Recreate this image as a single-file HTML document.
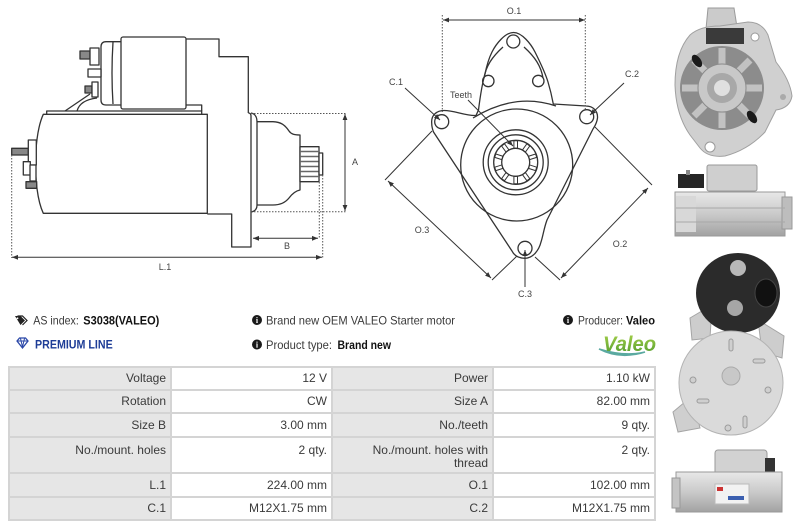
<!DOCTYPE html>
<html><head><meta charset="utf-8">
<style>
html,body{margin:0;padding:0;background:#fff;}
body{width:800px;height:529px;position:relative;overflow:hidden;font-family:"Liberation Sans",Arial,sans-serif;}
svg{position:absolute;left:0;top:0;}
.g{position:absolute;left:8px;top:366px;width:648px;height:155px;background:#d4d4d4;}
.c{position:absolute;box-sizing:border-box;text-align:right;padding-right:4px;font-size:12px;color:#3a3a3a;line-height:13px;white-space:nowrap;}
.l{background:#e6e6e6;}
.v{background:#fff;}
</style></head>
<body>
<svg width="800" height="529" viewBox="0 0 800 529" xmlns="http://www.w3.org/2000/svg">
<defs>
<marker id="ar" viewBox="0 0 10 10" refX="10" refY="5" markerWidth="6" markerHeight="6" orient="auto-start-reverse" markerUnits="userSpaceOnUse"><path d="M0,1 L10,5 L0,9 Z" fill="#333"/></marker>
<linearGradient id="vg" x1="0" y1="0" x2="0" y2="1"><stop offset="0" stop-color="#a6d04a"/><stop offset="1" stop-color="#4f9a2c"/></linearGradient>
<linearGradient id="cyl" x1="0" y1="0" x2="0" y2="1"><stop offset="0" stop-color="#e8e8e8"/><stop offset="0.5" stop-color="#cacaca"/><stop offset="1" stop-color="#a2a2a2"/></linearGradient>
</defs>

<!-- ===== LEFT DRAWING ===== -->
<g fill="none" stroke="#333" stroke-width="1.3" stroke-linejoin="round">
<path d="M186,39 H219 V56.7 H248.3 V113"/>
<path d="M248.3,113 Q251,113 251,116 V247 H231.7 V214 H207.3"/>
<path d="M251,113 Q257,114 257,122 V205 Q257,211 251,212"/>
<path d="M257,121.7 H273 C281,122 285,125 289,131 C291,134 294,135 300,135 V190 C295,191 292,194 289,198 C285,203 280,205 273,205 H257"/>
<rect x="300" y="146.7" width="19" height="35" fill="#fff"/>
<path d="M300,151.5 H319 M300,156.5 H319 M300,161.5 H319 M300,166.5 H319 M300,171.5 H319 M300,176.5 H319" stroke="#666" stroke-width="1.6"/>
<rect x="319" y="153" width="3.7" height="22" fill="#fff"/>
<path d="M43.3,114.3 H207.3 V213.3 H43.3 C37,200 35.5,178 35.5,163.8 C35.5,150 37,128 43.3,114.3 Z"/>
<path d="M46.7,114.3 V111 H201.7 V114.3"/>
<path d="M186,105 H201.7 V111"/>
<rect x="121" y="37" width="65" height="72" rx="2"/>
<path d="M121,41.7 H106 Q101,41.7 101,47 V100 Q101,105 106,105 H121"/>
<path d="M113,42 Q111,73 113,104"/>
<rect x="80" y="51" width="10" height="8" fill="#888"/>
<rect x="90" y="48" width="9" height="17" fill="#fff"/>
<rect x="88" y="69" width="13" height="8" fill="#fff"/>
<rect x="85" y="86" width="7" height="7" fill="#888"/>
<rect x="92" y="82" width="6" height="15" fill="#fff"/>
<path d="M90,94 L65,111"/>
<path d="M97,98 Q80,100 77,111"/>
<rect x="11.7" y="148.3" width="16.6" height="6.7" fill="#888"/>
<rect x="28.3" y="140" width="8" height="25" fill="#fff"/>
<rect x="23.3" y="161.7" width="7" height="13.3" fill="#fff"/>
<rect x="30" y="165" width="6" height="16" fill="#fff"/>
<rect x="26" y="181.7" width="10.7" height="6.6" fill="#888"/>
</g>
<g fill="none" stroke="#555" stroke-width="1" stroke-dasharray="1.5,1.5">
<path d="M11.7,155 V258 M322.7,175 V258 M319.3,173 V238 M251,113.5 H347 M251,211.7 H347"/>
</g>
<g fill="none" stroke="#333" stroke-width="1">
<path d="M12,257.3 H322" marker-start="url(#ar)" marker-end="url(#ar)"/>
<path d="M253,238.3 H318" marker-start="url(#ar)" marker-end="url(#ar)"/>
<path d="M345,114 V211" marker-start="url(#ar)" marker-end="url(#ar)"/>
</g>
<g font-family="Liberation Sans, sans-serif" font-size="9" fill="#444" text-anchor="middle">
<text x="165" y="270">L.1</text>
<text x="287" y="249">B</text>
<text x="355" y="165">A</text>
</g>

<!-- ===== MIDDLE DRAWING ===== -->
<g fill="none" stroke="#333" stroke-width="1.3" stroke-linejoin="round">
<path d="M431.7,123 C431,115 437,110.5 444,110.5 C455,110.5 465,116 476,115.5 L478.5,110 C480,98 482,84 485,74 C487,64 489,58 492,52 C496,44 505,32.5 513.5,32.5 C522,32.5 531,44 535,52 C540,62 545,72 548,82 C551,92 552,97 553.3,104 L586,106 C593,106 598,111 597.5,118 C597,122 595,126 593,129 L547,220 C544,228 543,236 541,242 C539,250 533,258.3 525,258.3 C518,258.3 514,255 512,251 L433.5,132 C432.3,129 431.7,126 431.7,123 Z"/>
<path d="M473,118 Q515,92 556,106"/>
<path d="M484,78 C486,66 492,57 503,47"/>
<path d="M524,47 C535,57 541,66 543,78"/>
<circle cx="513.3" cy="41.5" r="6.5"/>
<circle cx="488.3" cy="81" r="5.7"/>
<circle cx="538.3" cy="81" r="5.7"/>
<circle cx="441.7" cy="121.7" r="7"/>
<circle cx="586.7" cy="116.7" r="7"/>
<circle cx="525" cy="248.3" r="7"/>
<circle cx="516.7" cy="165" r="56"/>
<circle cx="515.7" cy="162.3" r="32.5"/>
<circle cx="515.7" cy="162.3" r="27.5"/>
<circle cx="515.7" cy="162.3" r="22"/>
<circle cx="515.7" cy="162.3" r="14"/>
<g stroke-width="1" transform="translate(515.7,162.3)">
<rect x="-1.8" y="-21.5" width="3.6" height="7.5" transform="rotate(0)"/>
<rect x="-1.8" y="-21.5" width="3.6" height="7.5" transform="rotate(36)"/>
<rect x="-1.8" y="-21.5" width="3.6" height="7.5" transform="rotate(72)"/>
<rect x="-1.8" y="-21.5" width="3.6" height="7.5" transform="rotate(108)"/>
<rect x="-1.8" y="-21.5" width="3.6" height="7.5" transform="rotate(144)"/>
<rect x="-1.8" y="-21.5" width="3.6" height="7.5" transform="rotate(180)"/>
<rect x="-1.8" y="-21.5" width="3.6" height="7.5" transform="rotate(216)"/>
<rect x="-1.8" y="-21.5" width="3.6" height="7.5" transform="rotate(252)"/>
<rect x="-1.8" y="-21.5" width="3.6" height="7.5" transform="rotate(288)"/>
<rect x="-1.8" y="-21.5" width="3.6" height="7.5" transform="rotate(324)"/>
</g>
</g>
<g fill="none" stroke="#555" stroke-width="1" stroke-dasharray="1.5,1.5">
<path d="M442.3,15 V112 M585.3,15 V110"/>
</g>
<g fill="none" stroke="#333" stroke-width="1">
<path d="M443,20 H585" marker-start="url(#ar)" marker-end="url(#ar)"/>
<path d="M405,88 L440,120" marker-end="url(#ar)"/>
<path d="M624,83 L590,115" marker-end="url(#ar)"/>
<path d="M468,100 L513,146" marker-end="url(#ar)"/>
<path d="M525,287 V250" marker-end="url(#ar)"/>
<path d="M432,131 L385,180 M517,256 L492,280"/>
<path d="M388,181 L491,278" marker-start="url(#ar)" marker-end="url(#ar)"/>
<path d="M595,127 L652,185 M535,257 L560,280"/>
<path d="M648,188 L561,278" marker-start="url(#ar)" marker-end="url(#ar)"/>
</g>
<g font-family="Liberation Sans, sans-serif" font-size="9" fill="#444" text-anchor="middle">
<text x="514" y="14">O.1</text>
<text x="396" y="85">C.1</text>
<text x="632" y="77">C.2</text>
<text x="461" y="98">Teeth</text>
<text x="525" y="297">C.3</text>
<text x="422" y="233">O.3</text>
<text x="620" y="247">O.2</text>
</g>

<!-- ===== PHOTOS ===== -->
<!-- photo 1 -->
<g>
<path d="M708,8 L734,8 L737,27 L706,29 Z" fill="#cbcbcb" stroke="#9a9a9a"/>
<path d="M690,35 Q700,26 720,26 L748,22 Q762,22 768,35 L776,62 Q790,80 792,96 Q790,108 776,110 L765,132 Q748,150 725,156 Q708,158 700,148 L690,135 Q676,115 675,85 Q675,52 690,35 Z" fill="#d0d0d0" stroke="#a0a0a0"/>
<circle cx="722" cy="88" r="42" fill="#8c8c8c"/>
<g stroke="#c2c2c2" stroke-width="7">
<path d="M722,64 V48 M722,112 V128 M698,88 H682 M746,88 H762 M705,71 L694,60 M739,105 L750,116 M739,71 L750,60 M705,105 L694,116"/>
</g>
<circle cx="722" cy="88" r="24" fill="#c8c8c8" stroke="#8a8a8a"/>
<circle cx="722" cy="88" r="15" fill="#a8a8a8"/>
<circle cx="722" cy="88" r="8" fill="#e0e0e0"/>
<rect x="706" y="28" width="38" height="16" fill="#3a3a3a"/>
<ellipse cx="697" cy="61" rx="4" ry="7" transform="rotate(-35 697 61)" fill="#1a1a1a"/>
<ellipse cx="752" cy="117" rx="4" ry="7" transform="rotate(-35 752 117)" fill="#1a1a1a"/>
<circle cx="755" cy="37" r="4" fill="#fff" stroke="#999"/>
<circle cx="710" cy="147" r="5" fill="#fff" stroke="#999"/>
<circle cx="783" cy="97" r="3" fill="#aaa"/>
</g>
<!-- photo 2 -->
<g>
<rect x="707" y="165" width="50" height="26" rx="2" fill="#cfcfcf" stroke="#999"/>
<rect x="678" y="174" width="26" height="14" fill="#262626"/>
<rect x="686" y="170" width="4" height="5" fill="#888"/>
<rect x="675" y="192" width="110" height="44" fill="url(#cyl)" stroke="#999"/>
<rect x="676" y="196" width="20" height="36" fill="#d8d8d8"/>
<rect x="782" y="197" width="10" height="32" fill="#bdbdbd" stroke="#999"/>
<path d="M676,208 H785 M676,222 H785" stroke="#a8a8a8"/>
</g>
<!-- photo 3 -->
<g>
<path d="M673,412 L692,396 L700,428 L678,432 Z" fill="#cfcfcf" stroke="#a5a5a5"/>
<path d="M690,318 L712,305 L710,338 L692,340 Z" fill="#cdcdcd" stroke="#a5a5a5"/>
<path d="M758,320 L784,336 L782,358 L762,352 Z" fill="#cdcdcd" stroke="#a5a5a5"/>
<ellipse cx="738" cy="293" rx="42" ry="40" fill="#2b2b2b"/>
<circle cx="738" cy="268" r="8" fill="#b8b8b8"/>
<circle cx="735" cy="308" r="8" fill="#a6a6a6"/>
<ellipse cx="766" cy="293" rx="11" ry="14" fill="#111" stroke="#444"/>
<circle cx="731" cy="383" r="52" fill="#dadada" stroke="#b3b3b3"/>
<circle cx="731" cy="376" r="9" fill="#c8c8c8" stroke="#aaa"/>
<g fill="#cfcfcf" stroke="#9c9c9c">
<rect x="729" y="339" width="4" height="12" rx="2"/>
<rect x="753" y="359" width="12" height="4" rx="2"/>
<rect x="697" y="399" width="12" height="4" rx="2"/>
<rect x="743" y="416" width="4" height="12" rx="2"/>
<circle cx="693" cy="380" r="3"/>
<circle cx="768" cy="390" r="3"/>
<circle cx="728" cy="428" r="3"/>
</g>
</g>
<!-- photo 4 -->
<g>
<rect x="715" y="450" width="52" height="25" rx="3" fill="#d2d2d2" stroke="#9a9a9a"/>
<rect x="765" y="458" width="10" height="14" fill="#333"/>
<rect x="676" y="472" width="106" height="40" fill="url(#cyl)" stroke="#999"/>
<rect x="672" y="478" width="8" height="30" fill="#c4c4c4" stroke="#999"/>
<rect x="715" y="484" width="34" height="20" fill="#f2f2f2" stroke="#bbb"/>
<rect x="717" y="487" width="6" height="4" fill="#c33"/>
<rect x="728" y="496" width="16" height="4" fill="#3b5fb0"/>
</g>

<!-- ===== INFO ROW ===== -->
<g>
<path d="M15,316 L20.5,316 L25,320.5 L20.5,325 Z" fill="#222"/>
<path d="M17.5,316 L22.5,316 L27,320.5 L22.5,325" fill="none" stroke="#222" stroke-width="1.2"/>
<circle cx="17.5" cy="318.3" r="0.9" fill="#fff"/>
<path d="M17,341 L19.5,338 L25.5,338 L28,341 L22.5,348 Z" fill="none" stroke="#2a47a8" stroke-width="1.3"/>
<path d="M17,341 H28 M20.5,338.5 L22.5,347 L24.5,338.5" fill="none" stroke="#2a47a8" stroke-width="1"/>
<circle cx="257" cy="320" r="5" fill="#1a1a1a"/>
<circle cx="257" cy="344.5" r="5" fill="#1a1a1a"/>
<circle cx="568" cy="320" r="5" fill="#1a1a1a"/>
<g fill="#fff" font-family="Liberation Serif, serif" font-weight="bold" font-size="8" text-anchor="middle">
<text x="257" y="323">i</text><text x="257" y="347.5">i</text><text x="568" y="323">i</text>
</g>
<g font-family="Liberation Sans, sans-serif" font-size="12">
<text x="33.3" y="324.5" fill="#3a3a3a" textLength="45.5" lengthAdjust="spacingAndGlyphs">AS index:</text>
<text x="83.3" y="324.5" fill="#111" font-weight="bold" textLength="76" lengthAdjust="spacingAndGlyphs">S3038(VALEO)</text>
<text x="35" y="348.5" fill="#1d3c96" font-weight="bold" textLength="77.7" lengthAdjust="spacingAndGlyphs">PREMIUM LINE</text>
<text x="266" y="324.5" fill="#3a3a3a" textLength="189" lengthAdjust="spacingAndGlyphs">Brand new OEM VALEO Starter motor</text>
<text x="266" y="349" fill="#3a3a3a" textLength="66" lengthAdjust="spacingAndGlyphs">Product type:</text>
<text x="337.5" y="349" fill="#111" font-weight="bold" textLength="53.5" lengthAdjust="spacingAndGlyphs">Brand new</text>
<text x="578" y="324.5" fill="#3a3a3a" textLength="45" lengthAdjust="spacingAndGlyphs">Producer:</text>
<text x="626" y="324.5" fill="#111" font-weight="bold" textLength="29" lengthAdjust="spacingAndGlyphs">Valeo</text>
</g>
<path d="M599,349 Q620,360 645,352 Q625,357 599,349 Z" fill="#5aa9a0" stroke="#5aa9a0" stroke-width="1.5"/>
<text x="603" y="351" font-family="Liberation Sans, sans-serif" font-size="21" font-weight="bold" font-style="italic" fill="url(#vg)" textLength="53" lengthAdjust="spacingAndGlyphs">Valeo</text>
</g>
</svg>

<div class="g">
  <div class="c l" style="left:2px;top:2px;width:160px;height:21px;padding-top:4px">Voltage</div>
  <div class="c v" style="left:164px;top:2px;width:159px;height:21px;padding-top:4px">12 V</div>
  <div class="c l" style="left:325px;top:2px;width:159px;height:21px;padding-top:4px">Power</div>
  <div class="c v" style="left:486px;top:2px;width:160px;height:21px;padding-top:4px">1.10 kW</div>

  <div class="c l" style="left:2px;top:25px;width:160px;height:21px;padding-top:4px">Rotation</div>
  <div class="c v" style="left:164px;top:25px;width:159px;height:21px;padding-top:4px">CW</div>
  <div class="c l" style="left:325px;top:25px;width:159px;height:21px;padding-top:4px">Size A</div>
  <div class="c v" style="left:486px;top:25px;width:160px;height:21px;padding-top:4px">82.00 mm</div>

  <div class="c l" style="left:2px;top:48px;width:160px;height:22px;padding-top:4.5px">Size B</div>
  <div class="c v" style="left:164px;top:48px;width:159px;height:22px;padding-top:4.5px">3.00 mm</div>
  <div class="c l" style="left:325px;top:48px;width:159px;height:22px;padding-top:4.5px">No./teeth</div>
  <div class="c v" style="left:486px;top:48px;width:160px;height:22px;padding-top:4.5px">9 qty.</div>

  <div class="c l" style="left:2px;top:72px;width:160px;height:34px;padding-top:5.5px">No./mount. holes</div>
  <div class="c v" style="left:164px;top:72px;width:159px;height:34px;padding-top:5.5px">2 qty.</div>
  <div class="c l" style="left:325px;top:72px;width:159px;height:34px;padding-top:5.5px">No./mount. holes with<br>thread</div>
  <div class="c v" style="left:486px;top:72px;width:160px;height:34px;padding-top:5.5px">2 qty.</div>

  <div class="c l" style="left:2px;top:108px;width:160px;height:22px;padding-top:4.5px">L.1</div>
  <div class="c v" style="left:164px;top:108px;width:159px;height:22px;padding-top:4.5px">224.00 mm</div>
  <div class="c l" style="left:325px;top:108px;width:159px;height:22px;padding-top:4.5px">O.1</div>
  <div class="c v" style="left:486px;top:108px;width:160px;height:22px;padding-top:4.5px">102.00 mm</div>

  <div class="c l" style="left:2px;top:132px;width:160px;height:21px;padding-top:4px">C.1</div>
  <div class="c v" style="left:164px;top:132px;width:159px;height:21px;padding-top:4px">M12X1.75 mm</div>
  <div class="c l" style="left:325px;top:132px;width:159px;height:21px;padding-top:4px">C.2</div>
  <div class="c v" style="left:486px;top:132px;width:160px;height:21px;padding-top:4px">M12X1.75 mm</div>
</div>
</body></html>
